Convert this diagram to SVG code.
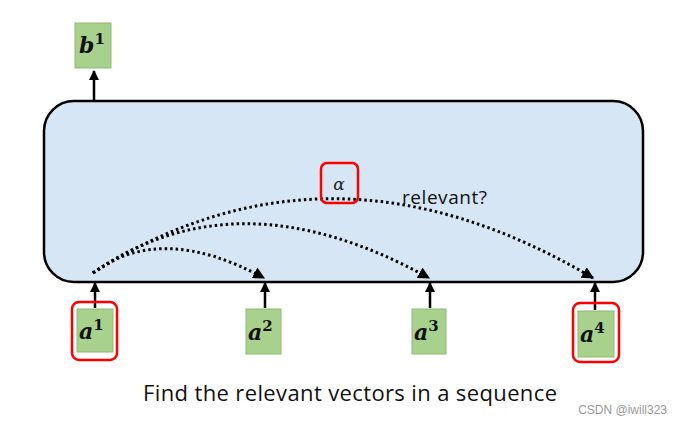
<svg xmlns="http://www.w3.org/2000/svg" width="692" height="424" viewBox="0 0 692 424">
<style>
.vec{fill:#a9d18e;stroke:#8dbb70;stroke-width:1}
.lbl{font-family:"DejaVu Serif","Liberation Serif",serif;font-weight:bold;font-style:italic;font-size:22px;fill:#111}
.sup{font-size:15px;font-style:normal}
.sel{fill:none;stroke:#ff0000;stroke-width:2.5}
.arr{stroke:#000;stroke-width:2.5;fill:none;marker-end:url(#ah)}
.dot{stroke:#000;stroke-width:3;fill:none;stroke-dasharray:2.5 3;marker-end:url(#dh)}
</style>
<defs>
<marker id="ah" viewBox="0 0 10 10" refX="9" refY="5" markerWidth="4" markerHeight="4" orient="auto" markerUnits="strokeWidth"><path d="M0,0 L10,5 L0,10 z" fill="#000"/></marker>
<marker id="dh" viewBox="0 0 10 10" refX="9" refY="5" markerWidth="4" markerHeight="4" orient="auto" markerUnits="strokeWidth"><path d="M0,0 L10,5 L0,10 z" fill="#000"/></marker>
</defs>
<rect width="692" height="424" fill="#fff"/>
<g id="panel"><rect x="44" y="101" width="599" height="181" rx="30" fill="#d6e6f5" stroke="#000" stroke-width="2.5"/></g>
<g id="connectors">
<line class="arr" x1="94" y1="100" x2="94" y2="71"/>
<line class="arr" x1="95" y1="308" x2="95" y2="283"/>
<line class="arr" x1="265" y1="308" x2="265" y2="283"/>
<line class="arr" x1="430" y1="308" x2="430" y2="283"/>
<line class="arr" x1="595" y1="310" x2="595" y2="283"/>
<path class="dot" d="M93,273 Q161,222 264,278"/>
<path class="dot" d="M93,273 Q238,172 429,278"/>
<path class="dot" d="M93,273 Q330,122 593,278"/>
</g>
<g id="b1"><rect class="vec" x="75" y="23" width="36" height="45"/><text class="lbl" x="79" y="53">b<tspan class="sup" dy="-9">1</tspan></text></g>
<g id="a1"><rect class="sel" x="72" y="302" width="45" height="58" rx="7"/><rect class="vec" x="77" y="309" width="36" height="43"/><text class="lbl" x="79" y="339">a<tspan class="sup" dy="-9">1</tspan></text></g>
<g id="a2"><rect class="vec" x="246" y="309" width="35" height="45"/><text class="lbl" x="248" y="340">a<tspan class="sup" dy="-9">2</tspan></text></g>
<g id="a3"><rect class="vec" x="412" y="309" width="34" height="45"/><text class="lbl" x="414" y="340">a<tspan class="sup" dy="-9">3</tspan></text></g>
<g id="a4"><rect class="sel" x="573" y="303" width="46" height="59" rx="7"/><rect class="vec" x="578" y="311" width="36" height="46"/><text class="lbl" x="580" y="342">a<tspan class="sup" dy="-9">4</tspan></text></g>
<g id="alpha"><rect class="sel" x="321" y="163" width="37" height="40" rx="6"/><text x="339" y="190" text-anchor="middle" font-family="DejaVu Serif,serif" font-style="italic" font-size="17" fill="#222">α</text></g>
<text x="402" y="204" font-family="Open Sans,sans-serif" font-size="19" fill="#111" textLength="85">relevant?</text>
<text x="143" y="401" font-family="Open Sans,sans-serif" font-size="22" fill="#111" textLength="414">Find the relevant vectors in a sequence</text>
<text x="667" y="414" text-anchor="end" font-family="Liberation Sans,sans-serif" font-size="12" fill="#999">CSDN @iwill323</text>
</svg>
